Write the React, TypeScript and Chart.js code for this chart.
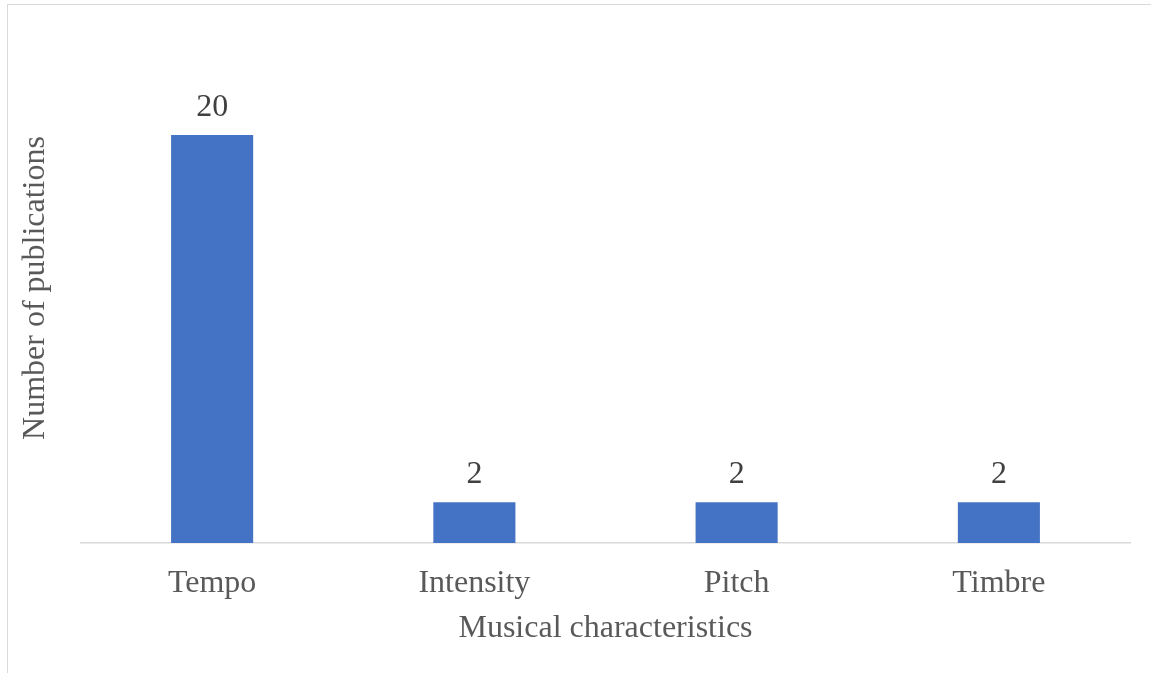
import React, { useEffect, useRef } from "react";
import { Chart, registerables } from "chart.js";

Chart.register(...registerables);

const categories = ["Tempo", "Intensity", "Pitch", "Timbre"];
const publications = [20, 2, 2, 2];
const xTitle = "Musical characteristics";
const yTitle = "Number of publications";

const FONT = "'Liberation Serif', 'Times New Roman', serif";

const dataLabels = {
  id: "dataLabels",
  afterDatasetsDraw(chart: any) {
    const ctx = chart.ctx;
    const meta = chart.getDatasetMeta(0);
    ctx.save();
    ctx.font = `32px ${FONT}`;
    ctx.fillStyle = "#404040";
    ctx.textAlign = "center";
    ctx.textBaseline = "alphabetic";
    meta.data.forEach((bar: any, i: number) => {
      ctx.fillText(String(chart.data.datasets[0].data[i]), bar.x, bar.y - 19);
    });
    ctx.restore();
  },
};

export default function App() {
  const ref = useRef<HTMLCanvasElement>(null);
  useEffect(() => {
    const chart = new Chart(ref.current!, {
      type: "bar",
      data: {
        labels: categories,
        datasets: [
          {
            data: publications,
            backgroundColor: "#4472C4",
            categoryPercentage: 1,
            barPercentage: 0.313,
          },
        ],
      },
      options: {
        animation: false,
        responsive: false,
        layout: { padding: { left: 0, right: 21, top: 33, bottom: 0 } },
        plugins: { legend: { display: false }, tooltip: { enabled: false } },
        scales: {
          x: {
            grid: { display: false, drawTicks: false },
            border: { display: true, color: "#d9d9d9", width: 1.5 },
            ticks: {
              color: "#595959",
              font: { family: FONT, size: 32 },
              padding: 21,
            },
            title: {
              display: true,
              text: xTitle,
              color: "#595959",
              font: { family: FONT, size: 32 },
              padding: { top: 0, bottom: 25 },
            },
            afterFit: (scale: any) => {
              scale.height = 130;
            },
          },
          y: {
            min: 0,
            max: 25,
            grid: { display: false, drawTicks: false },
            border: { display: false },
            ticks: { display: false },
            title: {
              display: true,
              text: yTitle,
              color: "#595959",
              font: { family: FONT, size: 32 },
              padding: { top: 16, bottom: 0 },
            },
            afterFit: (scale: any) => {
              scale.width = 81;
            },
          },
        },
      },
      plugins: [dataLabels],
    });
    return () => chart.destroy();
  }, []);
  return (
    <div style={{ position: "fixed", left: 0, top: 0, width: 1151, height: 673, background: "#fff", overflow: "hidden" }}>
      <div
        style={{
          position: "absolute",
          left: 7,
          top: 4,
          width: 1160,
          height: 700,
          borderLeft: "1.5px solid #d9d9d9",
          borderTop: "1.5px solid #d9d9d9",
        }}
      />
      <canvas ref={ref} width={1151} height={673} style={{ position: "absolute", left: 0, top: 0 }} />
    </div>
  );
}
